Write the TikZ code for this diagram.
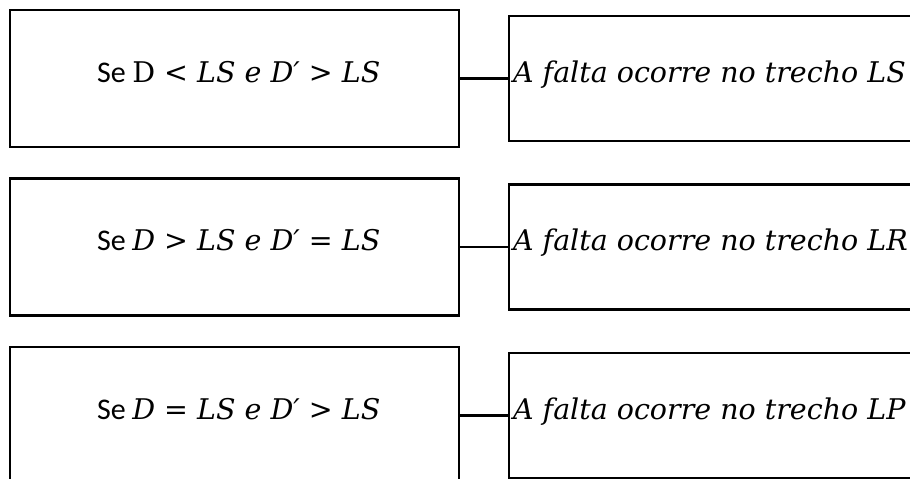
\documentclass[tikz,border=0pt]{standalone}
\usepackage{fontspec}
\setmainfont{Carlito}
\newfontfamily\eqfont{DejaVu Serif}
\newcommand{\eqtxt}[1]{{\eqfont\itshape #1}}
\usetikzlibrary{positioning}

\begin{document}
\begin{tikzpicture}[x=1pt, y=1pt, node distance=29.3pt and 47.8pt,
    condbox/.style={draw, line width=2.2pt, minimum width=449pt, minimum height=137pt, inner sep=0pt},
    resbox/.style={draw, line width=2.2pt, minimum width=421pt, minimum height=125pt, inner sep=0pt},
    boxtext/.style={font=\fontsize{28.5}{34}\selectfont, inner sep=0pt, anchor=base west},
    link/.style={line width=2.2pt}]
  \useasboundingbox (0,0) rectangle (910,-479);

  % conditions
  \node[condbox] (c1) at (234.5,-78.5) {};
  \node[condbox, below=of c1] (c2) {};
  \node[condbox, below=of c2] (c3) {};

  % outcomes
  \node[resbox, right=of c1] (r1) {};
  \node[resbox, right=of c2] (r2) {};
  \node[resbox, right=of c3] (r3) {};

  \node[boxtext] (t1) at ([xshift=88pt, yshift=-3.5pt] c1.west) {{\fontsize{30}{34}\selectfont Se} \eqtxt{{\upshape D} < LS e D′ > LS}};
  \node[boxtext] (t2) at ([xshift=88pt, yshift=-3.5pt] c2.west) {{\fontsize{30}{34}\selectfont Se} \eqtxt{D > LS e D′ = LS}};
  \node[boxtext] (t3) at ([xshift=88pt, yshift=-3.5pt] c3.west) {{\fontsize{30}{34}\selectfont Se} \eqtxt{D = LS e D′ > LS}};

  \node[boxtext] (s1) at ([xshift=5pt, yshift=-3.5pt] r1.west) {\eqtxt{A falta ocorre no trecho LS}};
  \node[boxtext] (s2) at ([xshift=5pt, yshift=-3.5pt] r2.west) {\eqtxt{A falta ocorre no trecho LR}};
  \node[boxtext] (s3) at ([xshift=5pt, yshift=-3.5pt] r3.west) {\eqtxt{A falta ocorre no trecho LP}};

  \draw[link] (c1) -- (r1);
  \draw[link] (c2) -- (r2);
  \draw[link] (c3) -- (r3);
\end{tikzpicture}
\end{document}
